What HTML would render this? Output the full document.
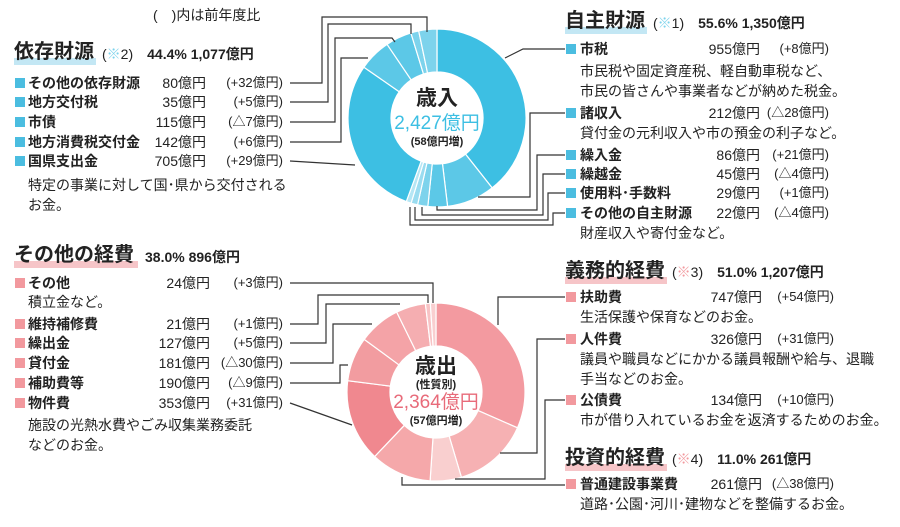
<!DOCTYPE html>
<html><head><meta charset="utf-8">
<style>
body{margin:0;width:900px;height:527px;background:#fff;position:relative;overflow:hidden;font-family:"Liberation Sans","Noto Sans CJK JP",sans-serif;color:#222}
.t{position:absolute;white-space:nowrap;font-size:14px;line-height:18px}
.b{font-weight:bold}
.sq{position:absolute;width:10px;height:10px}
.bl{background:#4bbde0}.pk{background:#f2999e}
.ttl{position:absolute;font-size:20px;font-weight:bold;line-height:24px;white-space:nowrap}
.hb{position:absolute;height:7px}
.r{text-align:right}
svg{position:absolute;left:0;top:0}
</style></head><body>
<svg width="900" height="527" id="sv">
<g id="pies"></g>
<g fill="none" stroke="#333" stroke-width="1.2">
<polyline points="290,83 322,83 322,17 427,17 427,32"/>
<polyline points="290,102 328,102 328,24 411,24 411,34"/>
<polyline points="290,122 335,122 335,38 392,38 395,42"/>
<polyline points="290,142 341,142 341,58 368,58"/>
<polyline points="290,161 355,165"/>
<polyline points="565,49 523,49 505,58"/>
<polyline points="565,113 530,113 530,197 478,197"/>
<polyline points="565,155 537,155 537,210 437,210 437,206"/>
<polyline points="565,174 543,174 543,215 422,215 422,207"/>
<polyline points="565,193 548,193 548,220 415,220 415,207"/>
<polyline points="565,213 553,213 553,225 410,225 410,207"/>
<polyline points="290,283 433,283 433,303"/>
<polyline points="290,324 318,324 318,295 428,295 428,303"/>
<polyline points="290,343 326,343 326,304 400,304"/>
<polyline points="290,363 333,363 333,324 372,324"/>
<polyline points="290,383 340,383 340,365 348,365"/>
<polyline points="290,403 352,425"/>
<polyline points="565,297 498,297 498,325"/>
<polyline points="565,339 537,339 537,453 500,453"/>
<polyline points="565,400 545,400 545,479 455,479"/>
<polyline points="565,485 402,485 402,477"/>
</g>
<text x="437" y="105" text-anchor="middle" font-size="21" font-weight="bold" fill="#222" font-family="Liberation Sans,Noto Sans CJK JP,sans-serif">歳入</text>
<text x="437" y="129" text-anchor="middle" font-size="19" fill="#3dbfe3" font-family="Liberation Sans,Noto Sans CJK JP,sans-serif">2,427億円</text>
<text x="437" y="145" text-anchor="middle" font-size="11" font-weight="bold" fill="#222" font-family="Liberation Sans,Noto Sans CJK JP,sans-serif">(58億円増)</text>
<text x="436" y="373" text-anchor="middle" font-size="21" font-weight="bold" fill="#222" font-family="Liberation Sans,Noto Sans CJK JP,sans-serif">歳出</text>
<text x="436" y="388" text-anchor="middle" font-size="11" font-weight="bold" fill="#222" font-family="Liberation Sans,Noto Sans CJK JP,sans-serif">(性質別)</text>
<text x="436" y="408" text-anchor="middle" font-size="19" fill="#e86b7a" font-family="Liberation Sans,Noto Sans CJK JP,sans-serif">2,364億円</text>
<text x="436" y="424" text-anchor="middle" font-size="11" font-weight="bold" fill="#222" font-family="Liberation Sans,Noto Sans CJK JP,sans-serif">(57億円増)</text>
</svg>
<script>
function pie(cx,cy,R,r,vals,cols){var tot=vals.reduce(function(a,b){return a+b},0),a=0,s='';
for(var i=0;i<vals.length;i++){var a0=a,a1=a+vals[i]/tot*2*Math.PI;a=a1;
function p(rr,an){return (cx+rr*Math.sin(an)).toFixed(2)+','+(cy-rr*Math.cos(an)).toFixed(2)}
var lg=(a1-a0)>Math.PI?1:0;
s+='<path d="M'+p(R,a0)+' A'+R+','+R+' 0 '+lg+' 1 '+p(R,a1)+' L'+p(r,a1)+' A'+r+','+r+' 0 '+lg+' 0 '+p(r,a0)+' Z" fill="'+cols[i]+'" stroke="#fff" stroke-width="1.2"/>';}
return s;}
document.getElementById('pies').innerHTML=
pie(437,118,89,46,[955,212,86,45,29,22,705,142,115,35,80],['#3dbfe3','#5cc8e7','#5cc8e7','#7dd3ec','#9adcf0','#b5e6f4','#3dbfe3','#5cc8e7','#5cc8e7','#7dd3ec','#7dd3ec'])+
pie(436,392,89,46,[747,326,134,261,353,190,181,127,21,24],['#f39aa0','#f6b1b3','#f9cfcf','#f5a8aa','#f0888f','#f29ca0','#f4a3a7','#f5aeb1','#f8c3c5','#f9cfd0']);
</script>

<div class="t" style="left:153px;top:6px">(　)内は前年度比</div>

<div class="hb" style="left:14px;top:58px;width:82px;background:#c3e7f4"></div>
<div class="ttl" style="left:14px;top:40px">依存財源</div>
<div class="t" style="left:102px;top:45px;font-size:14px">(<span style="color:#7dd3ec">※</span>2)　<b style="font-size:14px">44.4% 1,077億円</b></div>
<div class="sq bl" style="left:15px;top:78px"></div><div class="t b" style="left:28px;top:74px">その他の依存財源</div><div class="t r" style="left:140px;top:74px;width:66px">80億円</div><div class="t r" style="left:200px;top:74px;width:83px;font-size:13px">(+32億円)</div>
<div class="sq bl" style="left:15px;top:97px"></div><div class="t b" style="left:28px;top:93px">地方交付税</div><div class="t r" style="left:140px;top:93px;width:66px">35億円</div><div class="t r" style="left:200px;top:93px;width:83px;font-size:13px">(+5億円)</div>
<div class="sq bl" style="left:15px;top:117px"></div><div class="t b" style="left:28px;top:113px">市債</div><div class="t r" style="left:140px;top:113px;width:66px">115億円</div><div class="t r" style="left:200px;top:113px;width:83px;font-size:13px">(△7億円)</div>
<div class="sq bl" style="left:15px;top:137px"></div><div class="t b" style="left:28px;top:133px">地方消費税交付金</div><div class="t r" style="left:140px;top:133px;width:66px">142億円</div><div class="t r" style="left:200px;top:133px;width:83px;font-size:13px">(+6億円)</div>
<div class="sq bl" style="left:15px;top:156px"></div><div class="t b" style="left:28px;top:152px">国県支出金</div><div class="t r" style="left:140px;top:152px;width:66px">705億円</div><div class="t r" style="left:200px;top:152px;width:83px;font-size:13px">(+29億円)</div>
<div class="t" style="left:28px;top:176px">特定の事業に対して国･県から交付される</div>
<div class="t" style="left:28px;top:196px">お金。</div>

<div class="hb" style="left:565px;top:27px;width:82px;background:#c3e7f4"></div>
<div class="ttl" style="left:565px;top:9px">自主財源</div>
<div class="t" style="left:653px;top:14px">(<span style="color:#7dd3ec">※</span>1)　<b>55.6% 1,350億円</b></div>
<div class="sq bl" style="left:566px;top:44px"></div><div class="t b" style="left:580px;top:40px">市税</div><div class="t r" style="left:680px;top:40px;width:80px">955億円</div><div class="t r" style="left:750px;top:40px;width:79px;font-size:13px">(+8億円)</div>
<div class="t" style="left:580px;top:62px">市民税や固定資産税、軽自動車税など、</div>
<div class="t" style="left:580px;top:82px">市民の皆さんや事業者などが納めた税金。</div>
<div class="sq bl" style="left:566px;top:108px"></div><div class="t b" style="left:580px;top:104px">諸収入</div><div class="t r" style="left:680px;top:104px;width:80px">212億円</div><div class="t r" style="left:750px;top:104px;width:79px;font-size:13px">(△28億円)</div>
<div class="t" style="left:580px;top:124px">貸付金の元利収入や市の預金の利子など。</div>
<div class="sq bl" style="left:566px;top:150px"></div><div class="t b" style="left:580px;top:146px">繰入金</div><div class="t r" style="left:680px;top:146px;width:80px">86億円</div><div class="t r" style="left:750px;top:146px;width:79px;font-size:13px">(+21億円)</div>
<div class="sq bl" style="left:566px;top:169px"></div><div class="t b" style="left:580px;top:165px">繰越金</div><div class="t r" style="left:680px;top:165px;width:80px">45億円</div><div class="t r" style="left:750px;top:165px;width:79px;font-size:13px">(△4億円)</div>
<div class="sq bl" style="left:566px;top:188px"></div><div class="t b" style="left:580px;top:184px">使用料･手数料</div><div class="t r" style="left:680px;top:184px;width:80px">29億円</div><div class="t r" style="left:750px;top:184px;width:79px;font-size:13px">(+1億円)</div>
<div class="sq bl" style="left:566px;top:208px"></div><div class="t b" style="left:580px;top:204px">その他の自主財源</div><div class="t r" style="left:680px;top:204px;width:80px">22億円</div><div class="t r" style="left:750px;top:204px;width:79px;font-size:13px">(△4億円)</div>
<div class="t" style="left:580px;top:224px">財産収入や寄付金など。</div>

<div class="hb" style="left:14px;top:261px;width:124px;background:#f6c5c8"></div>
<div class="ttl" style="left:14px;top:243px">その他の経費</div>
<div class="t b" style="left:145px;top:248px">38.0% 896億円</div>
<div class="sq pk" style="left:15px;top:278px"></div><div class="t b" style="left:28px;top:274px">その他</div><div class="t r" style="left:140px;top:274px;width:70px">24億円</div><div class="t r" style="left:200px;top:274px;width:83px;font-size:13px">(+3億円)</div>
<div class="t" style="left:28px;top:293px">積立金など。</div>
<div class="sq pk" style="left:15px;top:319px"></div><div class="t b" style="left:28px;top:315px">維持補修費</div><div class="t r" style="left:140px;top:315px;width:70px">21億円</div><div class="t r" style="left:200px;top:315px;width:83px;font-size:13px">(+1億円)</div>
<div class="sq pk" style="left:15px;top:338px"></div><div class="t b" style="left:28px;top:334px">繰出金</div><div class="t r" style="left:140px;top:334px;width:70px">127億円</div><div class="t r" style="left:200px;top:334px;width:83px;font-size:13px">(+5億円)</div>
<div class="sq pk" style="left:15px;top:358px"></div><div class="t b" style="left:28px;top:354px">貸付金</div><div class="t r" style="left:140px;top:354px;width:70px">181億円</div><div class="t r" style="left:200px;top:354px;width:83px;font-size:13px">(△30億円)</div>
<div class="sq pk" style="left:15px;top:378px"></div><div class="t b" style="left:28px;top:374px">補助費等</div><div class="t r" style="left:140px;top:374px;width:70px">190億円</div><div class="t r" style="left:200px;top:374px;width:83px;font-size:13px">(△9億円)</div>
<div class="sq pk" style="left:15px;top:398px"></div><div class="t b" style="left:28px;top:394px">物件費</div><div class="t r" style="left:140px;top:394px;width:70px">353億円</div><div class="t r" style="left:200px;top:394px;width:83px;font-size:13px">(+31億円)</div>
<div class="t" style="left:28px;top:416px">施設の光熱水費やごみ収集業務委託</div>
<div class="t" style="left:28px;top:436px">などのお金。</div>

<div class="hb" style="left:565px;top:277px;width:102px;background:#f6c5c8"></div>
<div class="ttl" style="left:565px;top:259px">義務的経費</div>
<div class="t" style="left:672px;top:263px">(<span style="color:#f2999e">※</span>3)　<b>51.0% 1,207億円</b></div>
<div class="sq pk" style="left:566px;top:292px"></div><div class="t b" style="left:580px;top:288px">扶助費</div><div class="t r" style="left:680px;top:288px;width:82px">747億円</div><div class="t r" style="left:750px;top:288px;width:84px;font-size:13px">(+54億円)</div>
<div class="t" style="left:580px;top:308px">生活保護や保育などのお金。</div>
<div class="sq pk" style="left:566px;top:334px"></div><div class="t b" style="left:580px;top:330px">人件費</div><div class="t r" style="left:680px;top:330px;width:82px">326億円</div><div class="t r" style="left:750px;top:330px;width:84px;font-size:13px">(+31億円)</div>
<div class="t" style="left:580px;top:350px">議員や職員などにかかる議員報酬や給与、退職</div>
<div class="t" style="left:580px;top:370px">手当などのお金。</div>
<div class="sq pk" style="left:566px;top:395px"></div><div class="t b" style="left:580px;top:391px">公債費</div><div class="t r" style="left:680px;top:391px;width:82px">134億円</div><div class="t r" style="left:750px;top:391px;width:84px;font-size:13px">(+10億円)</div>
<div class="t" style="left:580px;top:411px">市が借り入れているお金を返済するためのお金。</div>

<div class="hb" style="left:565px;top:464px;width:102px;background:#f6c5c8"></div>
<div class="ttl" style="left:565px;top:446px">投資的経費</div>
<div class="t" style="left:672px;top:450px">(<span style="color:#f2999e">※</span>4)　<b>11.0% 261億円</b></div>
<div class="sq pk" style="left:566px;top:479px"></div><div class="t b" style="left:580px;top:475px">普通建設事業費</div><div class="t r" style="left:680px;top:475px;width:82px">261億円</div><div class="t r" style="left:750px;top:475px;width:84px;font-size:13px">(△38億円)</div>
<div class="t" style="left:580px;top:495px">道路･公園･河川･建物などを整備するお金。</div>
</body></html>
